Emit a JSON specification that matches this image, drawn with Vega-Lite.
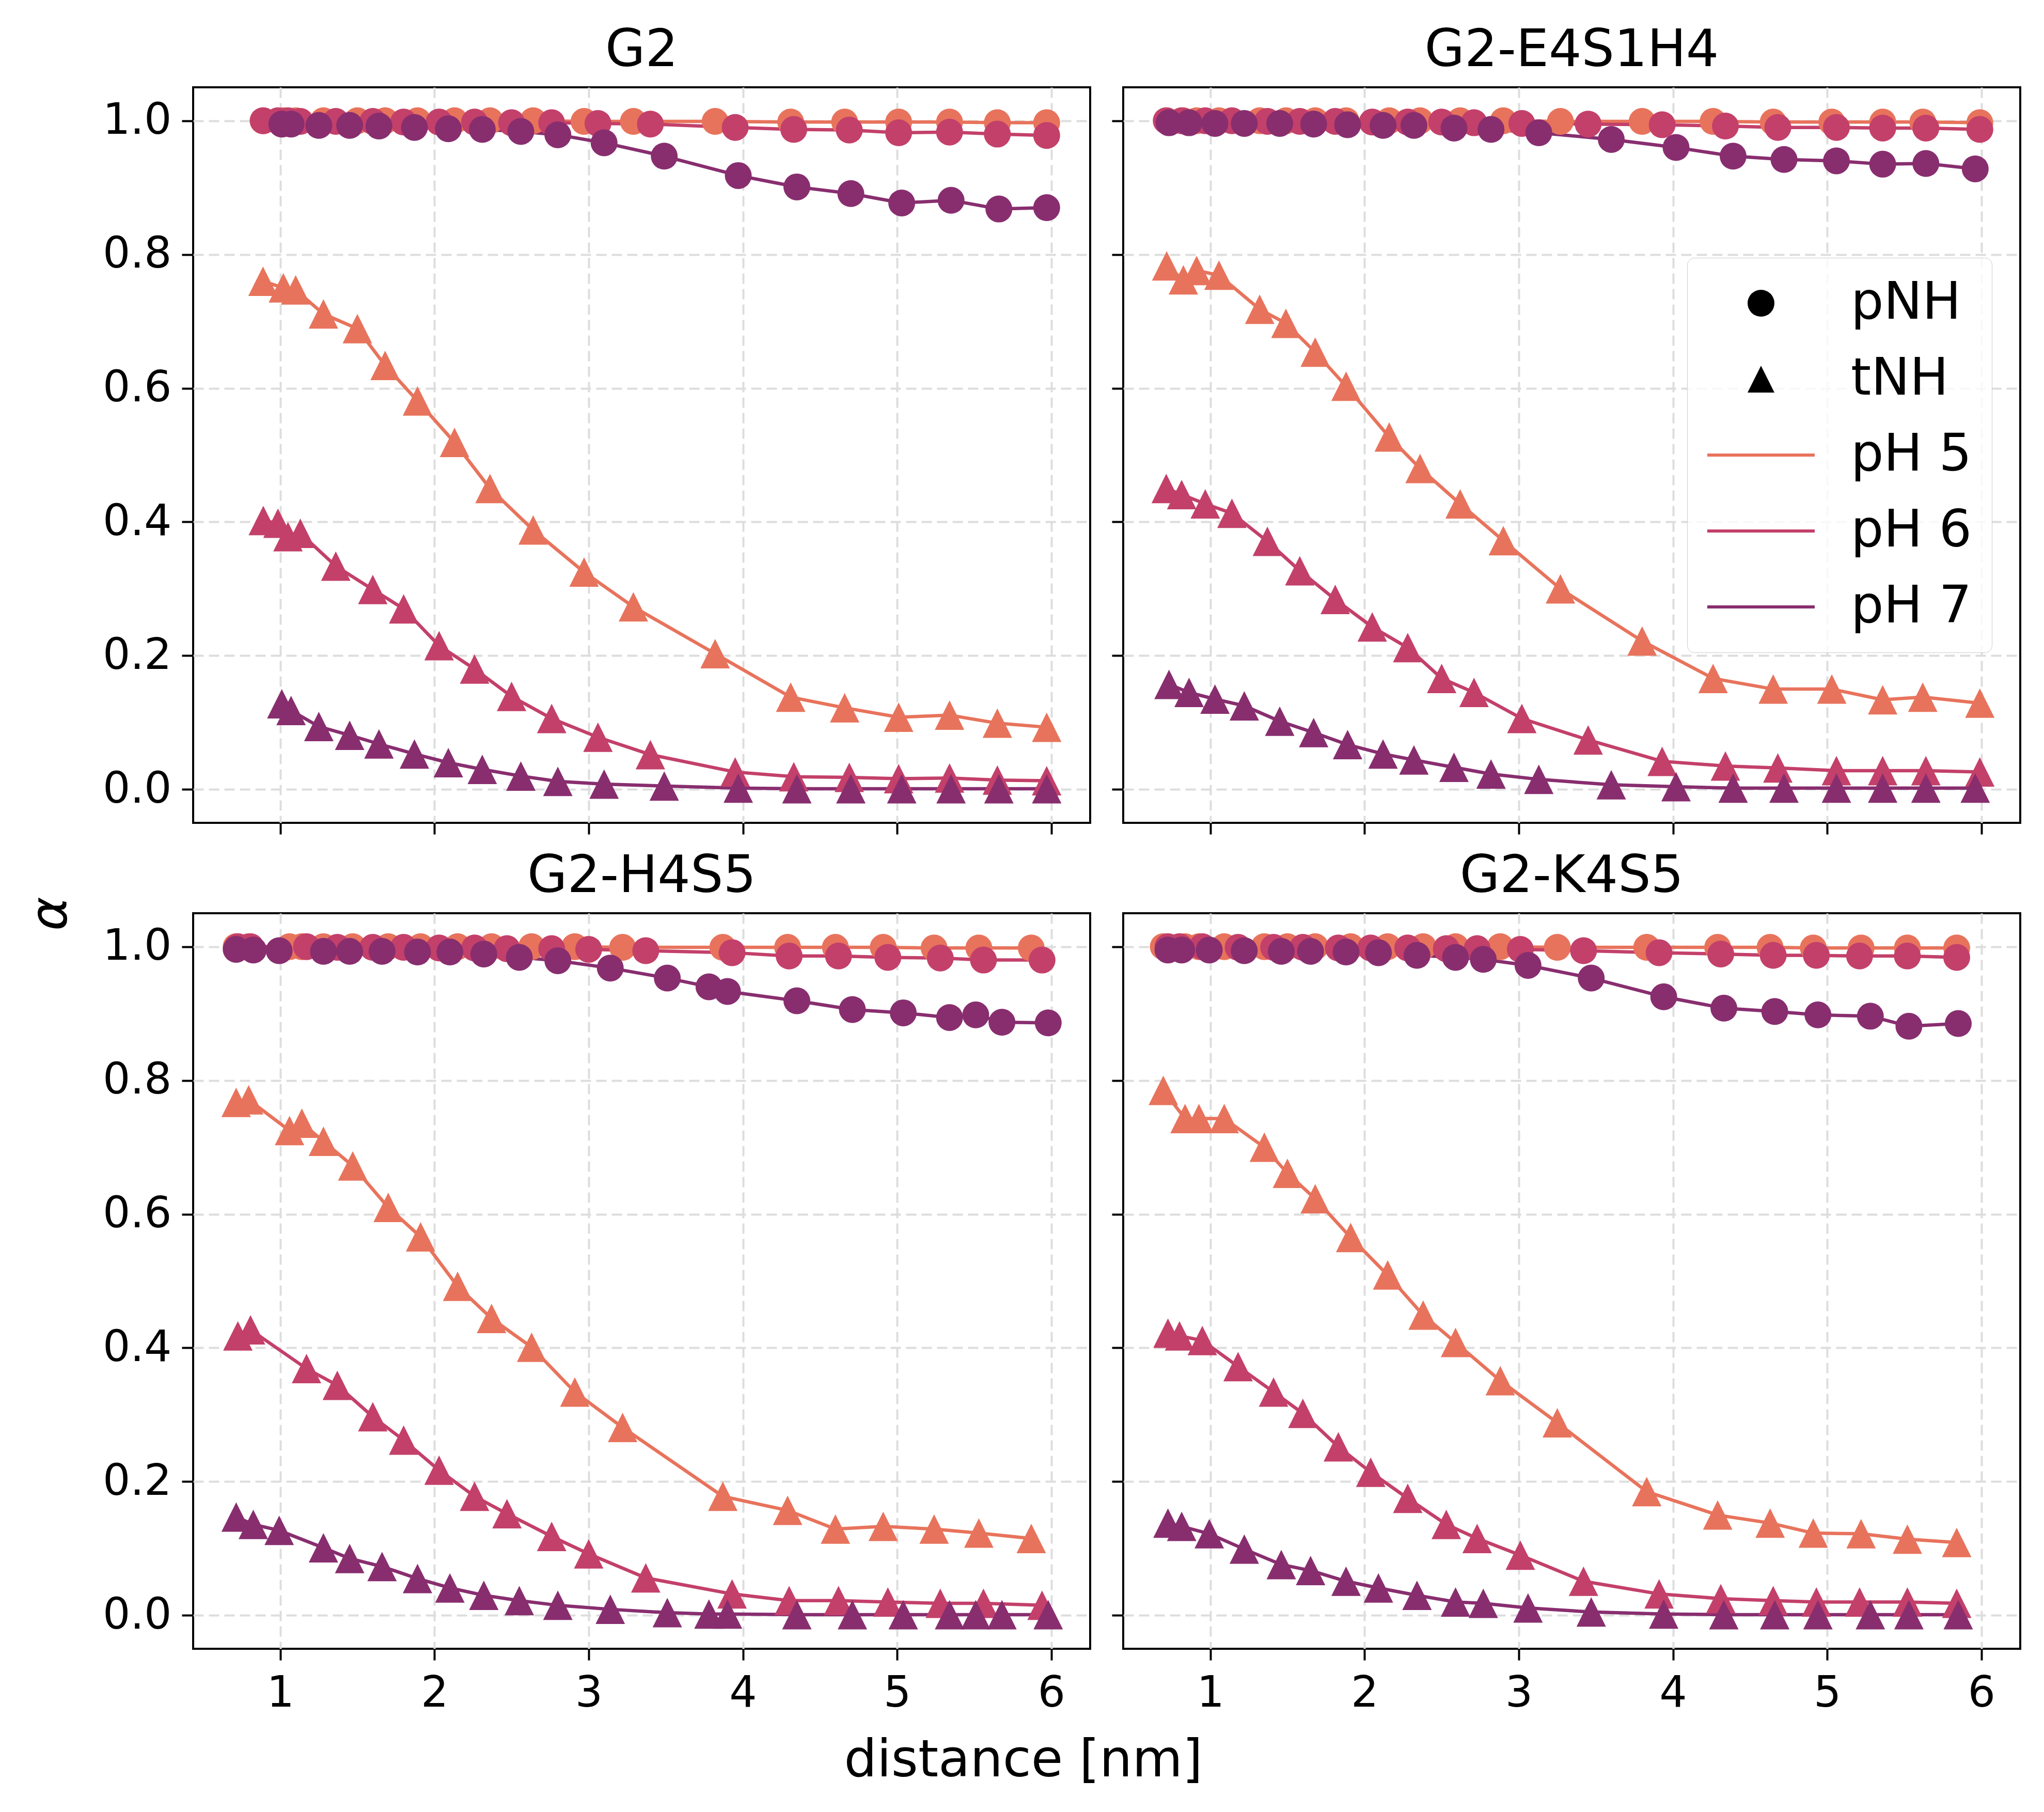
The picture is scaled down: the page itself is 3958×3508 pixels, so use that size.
{
"$schema": "https://vega.github.io/schema/vega-lite/v6.json",
"background": "white",
"padding": {"left": 49, "top": 46, "right": 40, "bottom": 40},
"data": {"values": [
{"p":"G2","h":"pH 5","t":"pNH","x":0.888,"y":1},{"p":"G2","h":"pH 5","t":"pNH","x":1.02,"y":1},{"p":"G2","h":"pH 5","t":"pNH","x":1.10,"y":1},{"p":"G2","h":"pH 5","t":"pNH","x":1.28,"y":1},{"p":"G2","h":"pH 5","t":"pNH","x":1.50,"y":1},{"p":"G2","h":"pH 5","t":"pNH","x":1.68,"y":1},{"p":"G2","h":"pH 5","t":"pNH","x":1.89,"y":1},{"p":"G2","h":"pH 5","t":"pNH","x":2.13,"y":1},{"p":"G2","h":"pH 5","t":"pNH","x":2.36,"y":1},{"p":"G2","h":"pH 5","t":"pNH","x":2.64,"y":1},{"p":"G2","h":"pH 5","t":"pNH","x":2.97,"y":0.999},{"p":"G2","h":"pH 5","t":"pNH","x":3.29,"y":0.999},{"p":"G2","h":"pH 5","t":"pNH","x":3.82,"y":0.999},{"p":"G2","h":"pH 5","t":"pNH","x":4.31,"y":0.998},{"p":"G2","h":"pH 5","t":"pNH","x":4.66,"y":0.998},{"p":"G2","h":"pH 5","t":"pNH","x":5.01,"y":0.998},{"p":"G2","h":"pH 5","t":"pNH","x":5.34,"y":0.998},{"p":"G2","h":"pH 5","t":"pNH","x":5.65,"y":0.997},{"p":"G2","h":"pH 5","t":"pNH","x":5.97,"y":0.997},
{"p":"G2","h":"pH 5","t":"tNH","x":0.888,"y":0.760},{"p":"G2","h":"pH 5","t":"tNH","x":1.02,"y":0.750},{"p":"G2","h":"pH 5","t":"tNH","x":1.10,"y":0.747},{"p":"G2","h":"pH 5","t":"tNH","x":1.28,"y":0.711},{"p":"G2","h":"pH 5","t":"tNH","x":1.50,"y":0.689},{"p":"G2","h":"pH 5","t":"tNH","x":1.68,"y":0.634},{"p":"G2","h":"pH 5","t":"tNH","x":1.89,"y":0.581},{"p":"G2","h":"pH 5","t":"tNH","x":2.13,"y":0.519},{"p":"G2","h":"pH 5","t":"tNH","x":2.36,"y":0.450},{"p":"G2","h":"pH 5","t":"tNH","x":2.64,"y":0.388},{"p":"G2","h":"pH 5","t":"tNH","x":2.97,"y":0.325},{"p":"G2","h":"pH 5","t":"tNH","x":3.29,"y":0.273},{"p":"G2","h":"pH 5","t":"tNH","x":3.82,"y":0.203},{"p":"G2","h":"pH 5","t":"tNH","x":4.31,"y":0.138},{"p":"G2","h":"pH 5","t":"tNH","x":4.66,"y":0.122},{"p":"G2","h":"pH 5","t":"tNH","x":5.01,"y":0.108},{"p":"G2","h":"pH 5","t":"tNH","x":5.34,"y":0.111},{"p":"G2","h":"pH 5","t":"tNH","x":5.65,"y":0.099},{"p":"G2","h":"pH 5","t":"tNH","x":5.97,"y":0.093},
{"p":"G2","h":"pH 6","t":"pNH","x":0.89,"y":1},{"p":"G2","h":"pH 6","t":"pNH","x":0.985,"y":1},{"p":"G2","h":"pH 6","t":"pNH","x":1.05,"y":1},{"p":"G2","h":"pH 6","t":"pNH","x":1.13,"y":0.999},{"p":"G2","h":"pH 6","t":"pNH","x":1.36,"y":0.999},{"p":"G2","h":"pH 6","t":"pNH","x":1.60,"y":0.999},{"p":"G2","h":"pH 6","t":"pNH","x":1.80,"y":0.998},{"p":"G2","h":"pH 6","t":"pNH","x":2.03,"y":0.998},{"p":"G2","h":"pH 6","t":"pNH","x":2.26,"y":0.998},{"p":"G2","h":"pH 6","t":"pNH","x":2.50,"y":0.997},{"p":"G2","h":"pH 6","t":"pNH","x":2.76,"y":0.997},{"p":"G2","h":"pH 6","t":"pNH","x":3.06,"y":0.996},{"p":"G2","h":"pH 6","t":"pNH","x":3.40,"y":0.995},{"p":"G2","h":"pH 6","t":"pNH","x":3.95,"y":0.990},{"p":"G2","h":"pH 6","t":"pNH","x":4.33,"y":0.987},{"p":"G2","h":"pH 6","t":"pNH","x":4.69,"y":0.986},{"p":"G2","h":"pH 6","t":"pNH","x":5.01,"y":0.982},{"p":"G2","h":"pH 6","t":"pNH","x":5.34,"y":0.983},{"p":"G2","h":"pH 6","t":"pNH","x":5.65,"y":0.980},{"p":"G2","h":"pH 6","t":"pNH","x":5.97,"y":0.978},
{"p":"G2","h":"pH 6","t":"tNH","x":0.89,"y":0.402},{"p":"G2","h":"pH 6","t":"tNH","x":0.985,"y":0.398},{"p":"G2","h":"pH 6","t":"tNH","x":1.05,"y":0.378},{"p":"G2","h":"pH 6","t":"tNH","x":1.13,"y":0.383},{"p":"G2","h":"pH 6","t":"tNH","x":1.36,"y":0.334},{"p":"G2","h":"pH 6","t":"tNH","x":1.60,"y":0.299},{"p":"G2","h":"pH 6","t":"tNH","x":1.80,"y":0.270},{"p":"G2","h":"pH 6","t":"tNH","x":2.03,"y":0.215},{"p":"G2","h":"pH 6","t":"tNH","x":2.26,"y":0.180},{"p":"G2","h":"pH 6","t":"tNH","x":2.50,"y":0.139},{"p":"G2","h":"pH 6","t":"tNH","x":2.76,"y":0.106},{"p":"G2","h":"pH 6","t":"tNH","x":3.06,"y":0.078},{"p":"G2","h":"pH 6","t":"tNH","x":3.40,"y":0.052},{"p":"G2","h":"pH 6","t":"tNH","x":3.95,"y":0.026},{"p":"G2","h":"pH 6","t":"tNH","x":4.33,"y":0.019},{"p":"G2","h":"pH 6","t":"tNH","x":4.69,"y":0.018},{"p":"G2","h":"pH 6","t":"tNH","x":5.01,"y":0.016},{"p":"G2","h":"pH 6","t":"tNH","x":5.34,"y":0.017},{"p":"G2","h":"pH 6","t":"tNH","x":5.65,"y":0.014},{"p":"G2","h":"pH 6","t":"tNH","x":5.97,"y":0.013},
{"p":"G2","h":"pH 7","t":"pNH","x":1.01,"y":0.995},{"p":"G2","h":"pH 7","t":"pNH","x":1.07,"y":0.995},{"p":"G2","h":"pH 7","t":"pNH","x":1.25,"y":0.993},{"p":"G2","h":"pH 7","t":"pNH","x":1.45,"y":0.993},{"p":"G2","h":"pH 7","t":"pNH","x":1.64,"y":0.992},{"p":"G2","h":"pH 7","t":"pNH","x":1.87,"y":0.990},{"p":"G2","h":"pH 7","t":"pNH","x":2.09,"y":0.988},{"p":"G2","h":"pH 7","t":"pNH","x":2.31,"y":0.987},{"p":"G2","h":"pH 7","t":"pNH","x":2.56,"y":0.984},{"p":"G2","h":"pH 7","t":"pNH","x":2.80,"y":0.979},{"p":"G2","h":"pH 7","t":"pNH","x":3.10,"y":0.967},{"p":"G2","h":"pH 7","t":"pNH","x":3.49,"y":0.947},{"p":"G2","h":"pH 7","t":"pNH","x":3.97,"y":0.918},{"p":"G2","h":"pH 7","t":"pNH","x":4.35,"y":0.901},{"p":"G2","h":"pH 7","t":"pNH","x":4.70,"y":0.891},{"p":"G2","h":"pH 7","t":"pNH","x":5.03,"y":0.877},{"p":"G2","h":"pH 7","t":"pNH","x":5.35,"y":0.881},{"p":"G2","h":"pH 7","t":"pNH","x":5.66,"y":0.868},{"p":"G2","h":"pH 7","t":"pNH","x":5.97,"y":0.870},
{"p":"G2","h":"pH 7","t":"tNH","x":1.01,"y":0.128},{"p":"G2","h":"pH 7","t":"tNH","x":1.07,"y":0.118},{"p":"G2","h":"pH 7","t":"tNH","x":1.25,"y":0.094},{"p":"G2","h":"pH 7","t":"tNH","x":1.45,"y":0.081},{"p":"G2","h":"pH 7","t":"tNH","x":1.64,"y":0.068},{"p":"G2","h":"pH 7","t":"tNH","x":1.87,"y":0.053},{"p":"G2","h":"pH 7","t":"tNH","x":2.09,"y":0.040},{"p":"G2","h":"pH 7","t":"tNH","x":2.31,"y":0.030},{"p":"G2","h":"pH 7","t":"tNH","x":2.56,"y":0.020},{"p":"G2","h":"pH 7","t":"tNH","x":2.80,"y":0.012},{"p":"G2","h":"pH 7","t":"tNH","x":3.10,"y":0.008},{"p":"G2","h":"pH 7","t":"tNH","x":3.49,"y":0.005},{"p":"G2","h":"pH 7","t":"tNH","x":3.97,"y":0.002},{"p":"G2","h":"pH 7","t":"tNH","x":4.35,"y":0.001},{"p":"G2","h":"pH 7","t":"tNH","x":4.70,"y":0.001},{"p":"G2","h":"pH 7","t":"tNH","x":5.03,"y":0.001},{"p":"G2","h":"pH 7","t":"tNH","x":5.35,"y":0.001},{"p":"G2","h":"pH 7","t":"tNH","x":5.66,"y":0.001},{"p":"G2","h":"pH 7","t":"tNH","x":5.97,"y":0.001},

{"p":"G2-E4S1H4","h":"pH 5","t":"pNH","x":0.717,"y":1},{"p":"G2-E4S1H4","h":"pH 5","t":"pNH","x":0.825,"y":1},{"p":"G2-E4S1H4","h":"pH 5","t":"pNH","x":0.911,"y":1},{"p":"G2-E4S1H4","h":"pH 5","t":"pNH","x":1.056,"y":1},{"p":"G2-E4S1H4","h":"pH 5","t":"pNH","x":1.32,"y":1},{"p":"G2-E4S1H4","h":"pH 5","t":"pNH","x":1.49,"y":1},{"p":"G2-E4S1H4","h":"pH 5","t":"pNH","x":1.68,"y":1},{"p":"G2-E4S1H4","h":"pH 5","t":"pNH","x":1.88,"y":1},{"p":"G2-E4S1H4","h":"pH 5","t":"pNH","x":2.16,"y":1},{"p":"G2-E4S1H4","h":"pH 5","t":"pNH","x":2.36,"y":1},{"p":"G2-E4S1H4","h":"pH 5","t":"pNH","x":2.62,"y":1},{"p":"G2-E4S1H4","h":"pH 5","t":"pNH","x":2.90,"y":1},{"p":"G2-E4S1H4","h":"pH 5","t":"pNH","x":3.27,"y":0.999},{"p":"G2-E4S1H4","h":"pH 5","t":"pNH","x":3.80,"y":0.999},{"p":"G2-E4S1H4","h":"pH 5","t":"pNH","x":4.26,"y":0.999},{"p":"G2-E4S1H4","h":"pH 5","t":"pNH","x":4.65,"y":0.998},{"p":"G2-E4S1H4","h":"pH 5","t":"pNH","x":5.03,"y":0.998},{"p":"G2-E4S1H4","h":"pH 5","t":"pNH","x":5.36,"y":0.998},{"p":"G2-E4S1H4","h":"pH 5","t":"pNH","x":5.62,"y":0.998},{"p":"G2-E4S1H4","h":"pH 5","t":"pNH","x":5.99,"y":0.997},
{"p":"G2-E4S1H4","h":"pH 5","t":"tNH","x":0.717,"y":0.783},{"p":"G2-E4S1H4","h":"pH 5","t":"tNH","x":0.825,"y":0.762},{"p":"G2-E4S1H4","h":"pH 5","t":"tNH","x":0.911,"y":0.776},{"p":"G2-E4S1H4","h":"pH 5","t":"tNH","x":1.056,"y":0.769},{"p":"G2-E4S1H4","h":"pH 5","t":"tNH","x":1.32,"y":0.718},{"p":"G2-E4S1H4","h":"pH 5","t":"tNH","x":1.49,"y":0.697},{"p":"G2-E4S1H4","h":"pH 5","t":"tNH","x":1.68,"y":0.654},{"p":"G2-E4S1H4","h":"pH 5","t":"tNH","x":1.88,"y":0.603},{"p":"G2-E4S1H4","h":"pH 5","t":"tNH","x":2.16,"y":0.527},{"p":"G2-E4S1H4","h":"pH 5","t":"tNH","x":2.36,"y":0.480},{"p":"G2-E4S1H4","h":"pH 5","t":"tNH","x":2.62,"y":0.427},{"p":"G2-E4S1H4","h":"pH 5","t":"tNH","x":2.90,"y":0.372},{"p":"G2-E4S1H4","h":"pH 5","t":"tNH","x":3.27,"y":0.300},{"p":"G2-E4S1H4","h":"pH 5","t":"tNH","x":3.80,"y":0.222},{"p":"G2-E4S1H4","h":"pH 5","t":"tNH","x":4.26,"y":0.166},{"p":"G2-E4S1H4","h":"pH 5","t":"tNH","x":4.65,"y":0.150},{"p":"G2-E4S1H4","h":"pH 5","t":"tNH","x":5.03,"y":0.150},{"p":"G2-E4S1H4","h":"pH 5","t":"tNH","x":5.36,"y":0.134},{"p":"G2-E4S1H4","h":"pH 5","t":"tNH","x":5.62,"y":0.138},{"p":"G2-E4S1H4","h":"pH 5","t":"tNH","x":5.99,"y":0.129},
{"p":"G2-E4S1H4","h":"pH 6","t":"pNH","x":0.714,"y":1},{"p":"G2-E4S1H4","h":"pH 6","t":"pNH","x":0.814,"y":1},{"p":"G2-E4S1H4","h":"pH 6","t":"pNH","x":0.967,"y":1},{"p":"G2-E4S1H4","h":"pH 6","t":"pNH","x":1.14,"y":1},{"p":"G2-E4S1H4","h":"pH 6","t":"pNH","x":1.37,"y":0.999},{"p":"G2-E4S1H4","h":"pH 6","t":"pNH","x":1.58,"y":0.999},{"p":"G2-E4S1H4","h":"pH 6","t":"pNH","x":1.81,"y":0.999},{"p":"G2-E4S1H4","h":"pH 6","t":"pNH","x":2.05,"y":0.998},{"p":"G2-E4S1H4","h":"pH 6","t":"pNH","x":2.28,"y":0.998},{"p":"G2-E4S1H4","h":"pH 6","t":"pNH","x":2.50,"y":0.998},{"p":"G2-E4S1H4","h":"pH 6","t":"pNH","x":2.71,"y":0.997},{"p":"G2-E4S1H4","h":"pH 6","t":"pNH","x":3.02,"y":0.996},{"p":"G2-E4S1H4","h":"pH 6","t":"pNH","x":3.45,"y":0.995},{"p":"G2-E4S1H4","h":"pH 6","t":"pNH","x":3.93,"y":0.994},{"p":"G2-E4S1H4","h":"pH 6","t":"pNH","x":4.34,"y":0.992},{"p":"G2-E4S1H4","h":"pH 6","t":"pNH","x":4.68,"y":0.990},{"p":"G2-E4S1H4","h":"pH 6","t":"pNH","x":5.06,"y":0.990},{"p":"G2-E4S1H4","h":"pH 6","t":"pNH","x":5.36,"y":0.989},{"p":"G2-E4S1H4","h":"pH 6","t":"pNH","x":5.64,"y":0.989},{"p":"G2-E4S1H4","h":"pH 6","t":"pNH","x":5.99,"y":0.987},
{"p":"G2-E4S1H4","h":"pH 6","t":"tNH","x":0.714,"y":0.450},{"p":"G2-E4S1H4","h":"pH 6","t":"tNH","x":0.814,"y":0.441},{"p":"G2-E4S1H4","h":"pH 6","t":"tNH","x":0.967,"y":0.427},{"p":"G2-E4S1H4","h":"pH 6","t":"tNH","x":1.14,"y":0.413},{"p":"G2-E4S1H4","h":"pH 6","t":"tNH","x":1.37,"y":0.371},{"p":"G2-E4S1H4","h":"pH 6","t":"tNH","x":1.58,"y":0.327},{"p":"G2-E4S1H4","h":"pH 6","t":"tNH","x":1.81,"y":0.284},{"p":"G2-E4S1H4","h":"pH 6","t":"tNH","x":2.05,"y":0.243},{"p":"G2-E4S1H4","h":"pH 6","t":"tNH","x":2.28,"y":0.212},{"p":"G2-E4S1H4","h":"pH 6","t":"tNH","x":2.50,"y":0.166},{"p":"G2-E4S1H4","h":"pH 6","t":"tNH","x":2.71,"y":0.145},{"p":"G2-E4S1H4","h":"pH 6","t":"tNH","x":3.02,"y":0.106},{"p":"G2-E4S1H4","h":"pH 6","t":"tNH","x":3.45,"y":0.074},{"p":"G2-E4S1H4","h":"pH 6","t":"tNH","x":3.93,"y":0.042},{"p":"G2-E4S1H4","h":"pH 6","t":"tNH","x":4.34,"y":0.035},{"p":"G2-E4S1H4","h":"pH 6","t":"tNH","x":4.68,"y":0.032},{"p":"G2-E4S1H4","h":"pH 6","t":"tNH","x":5.06,"y":0.028},{"p":"G2-E4S1H4","h":"pH 6","t":"tNH","x":5.36,"y":0.028},{"p":"G2-E4S1H4","h":"pH 6","t":"tNH","x":5.64,"y":0.028},{"p":"G2-E4S1H4","h":"pH 6","t":"tNH","x":5.99,"y":0.026},
{"p":"G2-E4S1H4","h":"pH 7","t":"pNH","x":0.732,"y":0.997},{"p":"G2-E4S1H4","h":"pH 7","t":"pNH","x":0.862,"y":0.997},{"p":"G2-E4S1H4","h":"pH 7","t":"pNH","x":1.03,"y":0.996},{"p":"G2-E4S1H4","h":"pH 7","t":"pNH","x":1.22,"y":0.996},{"p":"G2-E4S1H4","h":"pH 7","t":"pNH","x":1.45,"y":0.996},{"p":"G2-E4S1H4","h":"pH 7","t":"pNH","x":1.67,"y":0.995},{"p":"G2-E4S1H4","h":"pH 7","t":"pNH","x":1.89,"y":0.994},{"p":"G2-E4S1H4","h":"pH 7","t":"pNH","x":2.12,"y":0.993},{"p":"G2-E4S1H4","h":"pH 7","t":"pNH","x":2.32,"y":0.993},{"p":"G2-E4S1H4","h":"pH 7","t":"pNH","x":2.58,"y":0.989},{"p":"G2-E4S1H4","h":"pH 7","t":"pNH","x":2.82,"y":0.987},{"p":"G2-E4S1H4","h":"pH 7","t":"pNH","x":3.13,"y":0.982},{"p":"G2-E4S1H4","h":"pH 7","t":"pNH","x":3.60,"y":0.972},{"p":"G2-E4S1H4","h":"pH 7","t":"pNH","x":4.02,"y":0.960},{"p":"G2-E4S1H4","h":"pH 7","t":"pNH","x":4.39,"y":0.947},{"p":"G2-E4S1H4","h":"pH 7","t":"pNH","x":4.72,"y":0.942},{"p":"G2-E4S1H4","h":"pH 7","t":"pNH","x":5.06,"y":0.940},{"p":"G2-E4S1H4","h":"pH 7","t":"pNH","x":5.36,"y":0.935},{"p":"G2-E4S1H4","h":"pH 7","t":"pNH","x":5.64,"y":0.936},{"p":"G2-E4S1H4","h":"pH 7","t":"pNH","x":5.96,"y":0.928},
{"p":"G2-E4S1H4","h":"pH 7","t":"tNH","x":0.732,"y":0.157},{"p":"G2-E4S1H4","h":"pH 7","t":"tNH","x":0.862,"y":0.145},{"p":"G2-E4S1H4","h":"pH 7","t":"tNH","x":1.03,"y":0.135},{"p":"G2-E4S1H4","h":"pH 7","t":"tNH","x":1.22,"y":0.125},{"p":"G2-E4S1H4","h":"pH 7","t":"tNH","x":1.45,"y":0.102},{"p":"G2-E4S1H4","h":"pH 7","t":"tNH","x":1.67,"y":0.085},{"p":"G2-E4S1H4","h":"pH 7","t":"tNH","x":1.89,"y":0.067},{"p":"G2-E4S1H4","h":"pH 7","t":"tNH","x":2.12,"y":0.053},{"p":"G2-E4S1H4","h":"pH 7","t":"tNH","x":2.32,"y":0.044},{"p":"G2-E4S1H4","h":"pH 7","t":"tNH","x":2.58,"y":0.033},{"p":"G2-E4S1H4","h":"pH 7","t":"tNH","x":2.82,"y":0.023},{"p":"G2-E4S1H4","h":"pH 7","t":"tNH","x":3.13,"y":0.015},{"p":"G2-E4S1H4","h":"pH 7","t":"tNH","x":3.60,"y":0.007},{"p":"G2-E4S1H4","h":"pH 7","t":"tNH","x":4.02,"y":0.004},{"p":"G2-E4S1H4","h":"pH 7","t":"tNH","x":4.39,"y":0.002},{"p":"G2-E4S1H4","h":"pH 7","t":"tNH","x":4.72,"y":0.002},{"p":"G2-E4S1H4","h":"pH 7","t":"tNH","x":5.06,"y":0.002},{"p":"G2-E4S1H4","h":"pH 7","t":"tNH","x":5.36,"y":0.002},{"p":"G2-E4S1H4","h":"pH 7","t":"tNH","x":5.64,"y":0.002},{"p":"G2-E4S1H4","h":"pH 7","t":"tNH","x":5.96,"y":0.002},

{"p":"G2-H4S5","h":"pH 5","t":"pNH","x":0.714,"y":1},{"p":"G2-H4S5","h":"pH 5","t":"pNH","x":0.795,"y":1},{"p":"G2-H4S5","h":"pH 5","t":"pNH","x":1.06,"y":1},{"p":"G2-H4S5","h":"pH 5","t":"pNH","x":1.14,"y":1},{"p":"G2-H4S5","h":"pH 5","t":"pNH","x":1.28,"y":1},{"p":"G2-H4S5","h":"pH 5","t":"pNH","x":1.47,"y":1},{"p":"G2-H4S5","h":"pH 5","t":"pNH","x":1.70,"y":1},{"p":"G2-H4S5","h":"pH 5","t":"pNH","x":1.91,"y":1},{"p":"G2-H4S5","h":"pH 5","t":"pNH","x":2.15,"y":1},{"p":"G2-H4S5","h":"pH 5","t":"pNH","x":2.37,"y":1},{"p":"G2-H4S5","h":"pH 5","t":"pNH","x":2.63,"y":1},{"p":"G2-H4S5","h":"pH 5","t":"pNH","x":2.91,"y":1},{"p":"G2-H4S5","h":"pH 5","t":"pNH","x":3.22,"y":0.999},{"p":"G2-H4S5","h":"pH 5","t":"pNH","x":3.87,"y":0.999},{"p":"G2-H4S5","h":"pH 5","t":"pNH","x":4.29,"y":0.999},{"p":"G2-H4S5","h":"pH 5","t":"pNH","x":4.60,"y":0.999},{"p":"G2-H4S5","h":"pH 5","t":"pNH","x":4.91,"y":0.999},{"p":"G2-H4S5","h":"pH 5","t":"pNH","x":5.24,"y":0.998},{"p":"G2-H4S5","h":"pH 5","t":"pNH","x":5.53,"y":0.998},{"p":"G2-H4S5","h":"pH 5","t":"pNH","x":5.87,"y":0.998},
{"p":"G2-H4S5","h":"pH 5","t":"tNH","x":0.714,"y":0.767},{"p":"G2-H4S5","h":"pH 5","t":"tNH","x":0.795,"y":0.771},{"p":"G2-H4S5","h":"pH 5","t":"tNH","x":1.06,"y":0.725},{"p":"G2-H4S5","h":"pH 5","t":"tNH","x":1.14,"y":0.736},{"p":"G2-H4S5","h":"pH 5","t":"tNH","x":1.28,"y":0.709},{"p":"G2-H4S5","h":"pH 5","t":"tNH","x":1.47,"y":0.672},{"p":"G2-H4S5","h":"pH 5","t":"tNH","x":1.70,"y":0.610},{"p":"G2-H4S5","h":"pH 5","t":"tNH","x":1.91,"y":0.566},{"p":"G2-H4S5","h":"pH 5","t":"tNH","x":2.15,"y":0.492},{"p":"G2-H4S5","h":"pH 5","t":"tNH","x":2.37,"y":0.444},{"p":"G2-H4S5","h":"pH 5","t":"tNH","x":2.63,"y":0.401},{"p":"G2-H4S5","h":"pH 5","t":"tNH","x":2.91,"y":0.334},{"p":"G2-H4S5","h":"pH 5","t":"tNH","x":3.22,"y":0.281},{"p":"G2-H4S5","h":"pH 5","t":"tNH","x":3.87,"y":0.178},{"p":"G2-H4S5","h":"pH 5","t":"tNH","x":4.29,"y":0.157},{"p":"G2-H4S5","h":"pH 5","t":"tNH","x":4.60,"y":0.129},{"p":"G2-H4S5","h":"pH 5","t":"tNH","x":4.91,"y":0.133},{"p":"G2-H4S5","h":"pH 5","t":"tNH","x":5.24,"y":0.129},{"p":"G2-H4S5","h":"pH 5","t":"tNH","x":5.53,"y":0.123},{"p":"G2-H4S5","h":"pH 5","t":"tNH","x":5.87,"y":0.115},
{"p":"G2-H4S5","h":"pH 6","t":"pNH","x":0.725,"y":1},{"p":"G2-H4S5","h":"pH 6","t":"pNH","x":0.807,"y":1},{"p":"G2-H4S5","h":"pH 6","t":"pNH","x":1.17,"y":1},{"p":"G2-H4S5","h":"pH 6","t":"pNH","x":1.37,"y":0.999},{"p":"G2-H4S5","h":"pH 6","t":"pNH","x":1.60,"y":0.999},{"p":"G2-H4S5","h":"pH 6","t":"pNH","x":1.80,"y":0.999},{"p":"G2-H4S5","h":"pH 6","t":"pNH","x":2.03,"y":0.998},{"p":"G2-H4S5","h":"pH 6","t":"pNH","x":2.26,"y":0.998},{"p":"G2-H4S5","h":"pH 6","t":"pNH","x":2.47,"y":0.997},{"p":"G2-H4S5","h":"pH 6","t":"pNH","x":2.76,"y":0.997},{"p":"G2-H4S5","h":"pH 6","t":"pNH","x":3.00,"y":0.996},{"p":"G2-H4S5","h":"pH 6","t":"pNH","x":3.37,"y":0.994},{"p":"G2-H4S5","h":"pH 6","t":"pNH","x":3.93,"y":0.991},{"p":"G2-H4S5","h":"pH 6","t":"pNH","x":4.30,"y":0.986},{"p":"G2-H4S5","h":"pH 6","t":"pNH","x":4.62,"y":0.986},{"p":"G2-H4S5","h":"pH 6","t":"pNH","x":4.94,"y":0.984},{"p":"G2-H4S5","h":"pH 6","t":"pNH","x":5.28,"y":0.983},{"p":"G2-H4S5","h":"pH 6","t":"pNH","x":5.56,"y":0.980},{"p":"G2-H4S5","h":"pH 6","t":"pNH","x":5.94,"y":0.980},
{"p":"G2-H4S5","h":"pH 6","t":"tNH","x":0.725,"y":0.418},{"p":"G2-H4S5","h":"pH 6","t":"tNH","x":0.807,"y":0.427},{"p":"G2-H4S5","h":"pH 6","t":"tNH","x":1.17,"y":0.369},{"p":"G2-H4S5","h":"pH 6","t":"tNH","x":1.37,"y":0.344},{"p":"G2-H4S5","h":"pH 6","t":"tNH","x":1.60,"y":0.297},{"p":"G2-H4S5","h":"pH 6","t":"tNH","x":1.80,"y":0.262},{"p":"G2-H4S5","h":"pH 6","t":"tNH","x":2.03,"y":0.217},{"p":"G2-H4S5","h":"pH 6","t":"tNH","x":2.26,"y":0.178},{"p":"G2-H4S5","h":"pH 6","t":"tNH","x":2.47,"y":0.152},{"p":"G2-H4S5","h":"pH 6","t":"tNH","x":2.76,"y":0.118},{"p":"G2-H4S5","h":"pH 6","t":"tNH","x":3.00,"y":0.092},{"p":"G2-H4S5","h":"pH 6","t":"tNH","x":3.37,"y":0.056},{"p":"G2-H4S5","h":"pH 6","t":"tNH","x":3.93,"y":0.032},{"p":"G2-H4S5","h":"pH 6","t":"tNH","x":4.30,"y":0.022},{"p":"G2-H4S5","h":"pH 6","t":"tNH","x":4.62,"y":0.022},{"p":"G2-H4S5","h":"pH 6","t":"tNH","x":4.94,"y":0.020},{"p":"G2-H4S5","h":"pH 6","t":"tNH","x":5.28,"y":0.018},{"p":"G2-H4S5","h":"pH 6","t":"tNH","x":5.56,"y":0.018},{"p":"G2-H4S5","h":"pH 6","t":"tNH","x":5.94,"y":0.015},
{"p":"G2-H4S5","h":"pH 7","t":"pNH","x":0.714,"y":0.996},{"p":"G2-H4S5","h":"pH 7","t":"pNH","x":0.825,"y":0.995},{"p":"G2-H4S5","h":"pH 7","t":"pNH","x":0.993,"y":0.994},{"p":"G2-H4S5","h":"pH 7","t":"pNH","x":1.28,"y":0.993},{"p":"G2-H4S5","h":"pH 7","t":"pNH","x":1.45,"y":0.993},{"p":"G2-H4S5","h":"pH 7","t":"pNH","x":1.66,"y":0.993},{"p":"G2-H4S5","h":"pH 7","t":"pNH","x":1.89,"y":0.992},{"p":"G2-H4S5","h":"pH 7","t":"pNH","x":2.10,"y":0.992},{"p":"G2-H4S5","h":"pH 7","t":"pNH","x":2.32,"y":0.989},{"p":"G2-H4S5","h":"pH 7","t":"pNH","x":2.55,"y":0.984},{"p":"G2-H4S5","h":"pH 7","t":"pNH","x":2.80,"y":0.979},{"p":"G2-H4S5","h":"pH 7","t":"pNH","x":3.14,"y":0.968},{"p":"G2-H4S5","h":"pH 7","t":"pNH","x":3.51,"y":0.953},{"p":"G2-H4S5","h":"pH 7","t":"pNH","x":3.78,"y":0.940},{"p":"G2-H4S5","h":"pH 7","t":"pNH","x":3.90,"y":0.933},{"p":"G2-H4S5","h":"pH 7","t":"pNH","x":4.35,"y":0.919},{"p":"G2-H4S5","h":"pH 7","t":"pNH","x":4.71,"y":0.906},{"p":"G2-H4S5","h":"pH 7","t":"pNH","x":5.04,"y":0.901},{"p":"G2-H4S5","h":"pH 7","t":"pNH","x":5.34,"y":0.894},{"p":"G2-H4S5","h":"pH 7","t":"pNH","x":5.51,"y":0.898},{"p":"G2-H4S5","h":"pH 7","t":"pNH","x":5.68,"y":0.887},{"p":"G2-H4S5","h":"pH 7","t":"pNH","x":5.98,"y":0.886},
{"p":"G2-H4S5","h":"pH 7","t":"tNH","x":0.714,"y":0.147},{"p":"G2-H4S5","h":"pH 7","t":"tNH","x":0.825,"y":0.136},{"p":"G2-H4S5","h":"pH 7","t":"tNH","x":0.993,"y":0.127},{"p":"G2-H4S5","h":"pH 7","t":"tNH","x":1.28,"y":0.101},{"p":"G2-H4S5","h":"pH 7","t":"tNH","x":1.45,"y":0.085},{"p":"G2-H4S5","h":"pH 7","t":"tNH","x":1.66,"y":0.073},{"p":"G2-H4S5","h":"pH 7","t":"tNH","x":1.89,"y":0.055},{"p":"G2-H4S5","h":"pH 7","t":"tNH","x":2.10,"y":0.041},{"p":"G2-H4S5","h":"pH 7","t":"tNH","x":2.32,"y":0.030},{"p":"G2-H4S5","h":"pH 7","t":"tNH","x":2.55,"y":0.022},{"p":"G2-H4S5","h":"pH 7","t":"tNH","x":2.80,"y":0.015},{"p":"G2-H4S5","h":"pH 7","t":"tNH","x":3.14,"y":0.009},{"p":"G2-H4S5","h":"pH 7","t":"tNH","x":3.51,"y":0.004},{"p":"G2-H4S5","h":"pH 7","t":"tNH","x":3.78,"y":0.002},{"p":"G2-H4S5","h":"pH 7","t":"tNH","x":3.90,"y":0.002},{"p":"G2-H4S5","h":"pH 7","t":"tNH","x":4.35,"y":0.001},{"p":"G2-H4S5","h":"pH 7","t":"tNH","x":4.71,"y":0.001},{"p":"G2-H4S5","h":"pH 7","t":"tNH","x":5.04,"y":0.001},{"p":"G2-H4S5","h":"pH 7","t":"tNH","x":5.34,"y":0.001},{"p":"G2-H4S5","h":"pH 7","t":"tNH","x":5.51,"y":0.001},{"p":"G2-H4S5","h":"pH 7","t":"tNH","x":5.68,"y":0.001},{"p":"G2-H4S5","h":"pH 7","t":"tNH","x":5.98,"y":0.001},

{"p":"G2-K4S5","h":"pH 5","t":"pNH","x":0.695,"y":1},{"p":"G2-K4S5","h":"pH 5","t":"pNH","x":0.836,"y":1},{"p":"G2-K4S5","h":"pH 5","t":"pNH","x":0.926,"y":1},{"p":"G2-K4S5","h":"pH 5","t":"pNH","x":1.09,"y":1},{"p":"G2-K4S5","h":"pH 5","t":"pNH","x":1.35,"y":1},{"p":"G2-K4S5","h":"pH 5","t":"pNH","x":1.50,"y":1},{"p":"G2-K4S5","h":"pH 5","t":"pNH","x":1.68,"y":1},{"p":"G2-K4S5","h":"pH 5","t":"pNH","x":1.91,"y":1},{"p":"G2-K4S5","h":"pH 5","t":"pNH","x":2.15,"y":1},{"p":"G2-K4S5","h":"pH 5","t":"pNH","x":2.38,"y":1},{"p":"G2-K4S5","h":"pH 5","t":"pNH","x":2.59,"y":1},{"p":"G2-K4S5","h":"pH 5","t":"pNH","x":2.88,"y":1},{"p":"G2-K4S5","h":"pH 5","t":"pNH","x":3.25,"y":0.999},{"p":"G2-K4S5","h":"pH 5","t":"pNH","x":3.83,"y":0.999},{"p":"G2-K4S5","h":"pH 5","t":"pNH","x":4.29,"y":0.999},{"p":"G2-K4S5","h":"pH 5","t":"pNH","x":4.63,"y":0.999},{"p":"G2-K4S5","h":"pH 5","t":"pNH","x":4.91,"y":0.998},{"p":"G2-K4S5","h":"pH 5","t":"pNH","x":5.22,"y":0.998},{"p":"G2-K4S5","h":"pH 5","t":"pNH","x":5.52,"y":0.998},{"p":"G2-K4S5","h":"pH 5","t":"pNH","x":5.84,"y":0.998},
{"p":"G2-K4S5","h":"pH 5","t":"tNH","x":0.695,"y":0.785},{"p":"G2-K4S5","h":"pH 5","t":"tNH","x":0.836,"y":0.743},{"p":"G2-K4S5","h":"pH 5","t":"tNH","x":0.926,"y":0.743},{"p":"G2-K4S5","h":"pH 5","t":"tNH","x":1.09,"y":0.743},{"p":"G2-K4S5","h":"pH 5","t":"tNH","x":1.35,"y":0.700},{"p":"G2-K4S5","h":"pH 5","t":"tNH","x":1.50,"y":0.661},{"p":"G2-K4S5","h":"pH 5","t":"tNH","x":1.68,"y":0.623},{"p":"G2-K4S5","h":"pH 5","t":"tNH","x":1.91,"y":0.565},{"p":"G2-K4S5","h":"pH 5","t":"tNH","x":2.15,"y":0.509},{"p":"G2-K4S5","h":"pH 5","t":"tNH","x":2.38,"y":0.449},{"p":"G2-K4S5","h":"pH 5","t":"tNH","x":2.59,"y":0.408},{"p":"G2-K4S5","h":"pH 5","t":"tNH","x":2.88,"y":0.351},{"p":"G2-K4S5","h":"pH 5","t":"tNH","x":3.25,"y":0.288},{"p":"G2-K4S5","h":"pH 5","t":"tNH","x":3.83,"y":0.185},{"p":"G2-K4S5","h":"pH 5","t":"tNH","x":4.29,"y":0.150},{"p":"G2-K4S5","h":"pH 5","t":"tNH","x":4.63,"y":0.138},{"p":"G2-K4S5","h":"pH 5","t":"tNH","x":4.91,"y":0.123},{"p":"G2-K4S5","h":"pH 5","t":"tNH","x":5.22,"y":0.122},{"p":"G2-K4S5","h":"pH 5","t":"tNH","x":5.52,"y":0.114},{"p":"G2-K4S5","h":"pH 5","t":"tNH","x":5.84,"y":0.109},
{"p":"G2-K4S5","h":"pH 6","t":"pNH","x":0.725,"y":1},{"p":"G2-K4S5","h":"pH 6","t":"pNH","x":0.80,"y":1},{"p":"G2-K4S5","h":"pH 6","t":"pNH","x":0.948,"y":1},{"p":"G2-K4S5","h":"pH 6","t":"pNH","x":1.18,"y":0.999},{"p":"G2-K4S5","h":"pH 6","t":"pNH","x":1.41,"y":0.999},{"p":"G2-K4S5","h":"pH 6","t":"pNH","x":1.60,"y":0.999},{"p":"G2-K4S5","h":"pH 6","t":"pNH","x":1.83,"y":0.998},{"p":"G2-K4S5","h":"pH 6","t":"pNH","x":2.04,"y":0.998},{"p":"G2-K4S5","h":"pH 6","t":"pNH","x":2.28,"y":0.998},{"p":"G2-K4S5","h":"pH 6","t":"pNH","x":2.53,"y":0.997},{"p":"G2-K4S5","h":"pH 6","t":"pNH","x":2.73,"y":0.997},{"p":"G2-K4S5","h":"pH 6","t":"pNH","x":3.01,"y":0.996},{"p":"G2-K4S5","h":"pH 6","t":"pNH","x":3.42,"y":0.994},{"p":"G2-K4S5","h":"pH 6","t":"pNH","x":3.91,"y":0.991},{"p":"G2-K4S5","h":"pH 6","t":"pNH","x":4.31,"y":0.989},{"p":"G2-K4S5","h":"pH 6","t":"pNH","x":4.65,"y":0.987},{"p":"G2-K4S5","h":"pH 6","t":"pNH","x":4.93,"y":0.987},{"p":"G2-K4S5","h":"pH 6","t":"pNH","x":5.21,"y":0.986},{"p":"G2-K4S5","h":"pH 6","t":"pNH","x":5.52,"y":0.986},{"p":"G2-K4S5","h":"pH 6","t":"pNH","x":5.84,"y":0.984},
{"p":"G2-K4S5","h":"pH 6","t":"tNH","x":0.725,"y":0.422},{"p":"G2-K4S5","h":"pH 6","t":"tNH","x":0.80,"y":0.418},{"p":"G2-K4S5","h":"pH 6","t":"tNH","x":0.948,"y":0.411},{"p":"G2-K4S5","h":"pH 6","t":"tNH","x":1.18,"y":0.372},{"p":"G2-K4S5","h":"pH 6","t":"tNH","x":1.41,"y":0.334},{"p":"G2-K4S5","h":"pH 6","t":"tNH","x":1.60,"y":0.302},{"p":"G2-K4S5","h":"pH 6","t":"tNH","x":1.83,"y":0.252},{"p":"G2-K4S5","h":"pH 6","t":"tNH","x":2.04,"y":0.214},{"p":"G2-K4S5","h":"pH 6","t":"tNH","x":2.28,"y":0.175},{"p":"G2-K4S5","h":"pH 6","t":"tNH","x":2.53,"y":0.136},{"p":"G2-K4S5","h":"pH 6","t":"tNH","x":2.73,"y":0.115},{"p":"G2-K4S5","h":"pH 6","t":"tNH","x":3.01,"y":0.090},{"p":"G2-K4S5","h":"pH 6","t":"tNH","x":3.42,"y":0.051},{"p":"G2-K4S5","h":"pH 6","t":"tNH","x":3.91,"y":0.032},{"p":"G2-K4S5","h":"pH 6","t":"tNH","x":4.31,"y":0.025},{"p":"G2-K4S5","h":"pH 6","t":"tNH","x":4.65,"y":0.022},{"p":"G2-K4S5","h":"pH 6","t":"tNH","x":4.93,"y":0.020},{"p":"G2-K4S5","h":"pH 6","t":"tNH","x":5.21,"y":0.020},{"p":"G2-K4S5","h":"pH 6","t":"tNH","x":5.52,"y":0.020},{"p":"G2-K4S5","h":"pH 6","t":"tNH","x":5.84,"y":0.018},
{"p":"G2-K4S5","h":"pH 7","t":"pNH","x":0.725,"y":0.995},{"p":"G2-K4S5","h":"pH 7","t":"pNH","x":0.814,"y":0.995},{"p":"G2-K4S5","h":"pH 7","t":"pNH","x":0.993,"y":0.995},{"p":"G2-K4S5","h":"pH 7","t":"pNH","x":1.22,"y":0.994},{"p":"G2-K4S5","h":"pH 7","t":"pNH","x":1.46,"y":0.993},{"p":"G2-K4S5","h":"pH 7","t":"pNH","x":1.65,"y":0.993},{"p":"G2-K4S5","h":"pH 7","t":"pNH","x":1.88,"y":0.992},{"p":"G2-K4S5","h":"pH 7","t":"pNH","x":2.09,"y":0.991},{"p":"G2-K4S5","h":"pH 7","t":"pNH","x":2.34,"y":0.987},{"p":"G2-K4S5","h":"pH 7","t":"pNH","x":2.59,"y":0.984},{"p":"G2-K4S5","h":"pH 7","t":"pNH","x":2.77,"y":0.981},{"p":"G2-K4S5","h":"pH 7","t":"pNH","x":3.06,"y":0.972},{"p":"G2-K4S5","h":"pH 7","t":"pNH","x":3.47,"y":0.953},{"p":"G2-K4S5","h":"pH 7","t":"pNH","x":3.94,"y":0.925},{"p":"G2-K4S5","h":"pH 7","t":"pNH","x":4.33,"y":0.908},{"p":"G2-K4S5","h":"pH 7","t":"pNH","x":4.66,"y":0.903},{"p":"G2-K4S5","h":"pH 7","t":"pNH","x":4.94,"y":0.898},{"p":"G2-K4S5","h":"pH 7","t":"pNH","x":5.28,"y":0.896},{"p":"G2-K4S5","h":"pH 7","t":"pNH","x":5.53,"y":0.881},{"p":"G2-K4S5","h":"pH 7","t":"pNH","x":5.85,"y":0.885},
{"p":"G2-K4S5","h":"pH 7","t":"tNH","x":0.725,"y":0.138},{"p":"G2-K4S5","h":"pH 7","t":"tNH","x":0.814,"y":0.133},{"p":"G2-K4S5","h":"pH 7","t":"tNH","x":0.993,"y":0.122},{"p":"G2-K4S5","h":"pH 7","t":"tNH","x":1.22,"y":0.099},{"p":"G2-K4S5","h":"pH 7","t":"tNH","x":1.46,"y":0.076},{"p":"G2-K4S5","h":"pH 7","t":"tNH","x":1.65,"y":0.067},{"p":"G2-K4S5","h":"pH 7","t":"tNH","x":1.88,"y":0.051},{"p":"G2-K4S5","h":"pH 7","t":"tNH","x":2.09,"y":0.041},{"p":"G2-K4S5","h":"pH 7","t":"tNH","x":2.34,"y":0.030},{"p":"G2-K4S5","h":"pH 7","t":"tNH","x":2.59,"y":0.020},{"p":"G2-K4S5","h":"pH 7","t":"tNH","x":2.77,"y":0.018},{"p":"G2-K4S5","h":"pH 7","t":"tNH","x":3.06,"y":0.011},{"p":"G2-K4S5","h":"pH 7","t":"tNH","x":3.47,"y":0.005},{"p":"G2-K4S5","h":"pH 7","t":"tNH","x":3.94,"y":0.002},{"p":"G2-K4S5","h":"pH 7","t":"tNH","x":4.33,"y":0.001},{"p":"G2-K4S5","h":"pH 7","t":"tNH","x":4.66,"y":0.001},{"p":"G2-K4S5","h":"pH 7","t":"tNH","x":4.94,"y":0.001},{"p":"G2-K4S5","h":"pH 7","t":"tNH","x":5.28,"y":0.001},{"p":"G2-K4S5","h":"pH 7","t":"tNH","x":5.53,"y":0.001},{"p":"G2-K4S5","h":"pH 7","t":"tNH","x":5.85,"y":0.001}
]},
"title": {"text": "distance [nm]", "orient": "bottom", "anchor": "middle", "offset": 38, "fontSize": 100, "fontWeight": "normal", "font": "DejaVu Sans", "color": "black"},
"resolve": {"legend": {"shape": "independent", "fill": "independent", "color": "independent"}},
"vconcat": [
{
"title": {"text": "α", "orient": "left", "anchor": "middle", "offset": 46, "dx": -85, "fontSize": 100, "fontWeight": "normal", "fontStyle": "italic", "font": "DejaVu Sans", "color": "black"},
"resolve": {"legend": {"shape": "independent", "fill": "independent", "color": "independent"}},
"spacing": 26,
"vconcat": [
{"hconcat": [
{
"title": {"text": "G2", "anchor": "middle", "frame": "group", "offset": 20, "fontSize": 100, "fontWeight": "normal", "font": "DejaVu Sans", "color": "black"},
"width": 1737, "height": 1424,
"transform": [{"filter": "datum.p === 'G2'"}],
"encoding": {
  "x": {"field": "x", "type": "quantitative", "scale": {"domain": [0.435, 6.252], "nice": false, "zero": false}, "axis": {"values": [1,2,3,4,5,6], "format": "d", "labels": false, "title": null}},
  "y": {"field": "y", "type": "quantitative", "scale": {"domain": [-0.05, 1.05], "nice": false, "zero": false}, "axis": {"values": [0,0.2,0.4,0.6,0.8,1], "format": ".1f", "labels": true, "title": null}}
},
"layer": [
{"mark": {"type": "line", "strokeWidth": 6.5},
 "encoding": {
  "color": {"field": "h", "type": "nominal", "scale": {"domain": ["pH 5","pH 6","pH 7"], "range": ["#e8735c","#c3406a","#882e6f"]}, "legend": null},
  "detail": {"field": "t"}}},
{"transform": [{"filter": "datum.t === 'pNH'"}],
 "mark": {"type": "point", "filled": true, "opacity": 1, "strokeWidth": 0, "shape": "circle", "size": 2704},
 "encoding": {"color": {"field": "h", "type": "nominal", "legend": null}}},
{"transform": [{"filter": "datum.t === 'tNH'"}],
 "mark": {"type": "point", "filled": true, "opacity": 1, "strokeWidth": 0, "shape": "M0,-1L-1,1L1,1Z", "size": 3249},
 "encoding": {"color": {"field": "h", "type": "nominal", "legend": null}}}
]
},
{
"title": {"text": "G2-E4S1H4", "anchor": "middle", "frame": "group", "offset": 20, "fontSize": 100, "fontWeight": "normal", "font": "DejaVu Sans", "color": "black"},
"width": 1737, "height": 1424,
"transform": [{"filter": "datum.p === 'G2-E4S1H4'"}],
"encoding": {
  "x": {"field": "x", "type": "quantitative", "scale": {"domain": [0.435, 6.252], "nice": false, "zero": false}, "axis": {"values": [1,2,3,4,5,6], "format": "d", "labels": false, "title": null}},
  "y": {"field": "y", "type": "quantitative", "scale": {"domain": [-0.05, 1.05], "nice": false, "zero": false}, "axis": {"values": [0,0.2,0.4,0.6,0.8,1], "format": ".1f", "labels": false, "title": null}}
},
"layer": [
{"mark": {"type": "line", "strokeWidth": 6.5},
 "encoding": {
  "color": {"field": "h", "type": "nominal", "scale": {"domain": ["pH 5","pH 6","pH 7"], "range": ["#e8735c","#c3406a","#882e6f"]}, "legend": null},
  "detail": {"field": "t"}}},
{"transform": [{"filter": "datum.t === 'pNH'"}],
 "mark": {"type": "point", "filled": true, "opacity": 1, "strokeWidth": 0, "shape": "circle", "size": 2704},
 "encoding": {"color": {"field": "h", "type": "nominal", "legend": null}}},
{"transform": [{"filter": "datum.t === 'tNH'"}],
 "mark": {"type": "point", "filled": true, "opacity": 1, "strokeWidth": 0, "shape": "M0,-1L-1,1L1,1Z", "size": 3249},
 "encoding": {"color": {"field": "h", "type": "nominal", "legend": null}}},
{"mark": {"type": "point", "filled": true, "opacity": 0, "strokeWidth": 0, "size": 2704},
 "encoding": {
  "shape": {"field": "t", "type": "nominal", "scale": {"domain": ["pNH","tNH","pH 5","pH 6","pH 7"], "range": ["circle","M0,-1L-1,1L1,1Z","M-4,-0.12H4V0.12H-4Z","M-4,-0.12H4V0.12H-4Z","M-4,-0.12H4V0.12H-4Z"]},
   "legend": {"orient": "none", "legendX": 1092, "legendY": 330, "title": null,
     "labelFontSize": 100, "labelFont": "DejaVu Sans", "labelColor": "black", "labelOffset": 124, "labelLimit": 600,
     "padding": 38, "rowPadding": 47, "symbolOffset": 55, "symbolSize": 2704, "symbolStrokeWidth": 0, "symbolOpacity": 1,
     "fillColor": "rgba(255,255,255,0.8)", "strokeColor": "#cccccc", "cornerRadius": 14}},
  "fill": {"field": "t", "type": "nominal", "scale": {"domain": ["pNH","tNH","pH 5","pH 6","pH 7"], "range": ["black","black","#e8735c","#c3406a","#882e6f"]},
   "legend": {"orient": "none", "legendX": 1092, "legendY": 330, "title": null,
     "labelFontSize": 100, "labelFont": "DejaVu Sans", "labelColor": "black", "labelOffset": 124, "labelLimit": 600,
     "padding": 38, "rowPadding": 47, "symbolOffset": 55, "symbolSize": 2704, "symbolStrokeWidth": 0, "symbolOpacity": 1,
     "fillColor": "rgba(255,255,255,0.8)", "strokeColor": "#cccccc", "cornerRadius": 14}}}}
]
}
], "spacing": 36, "resolve": {"legend": {"shape": "independent", "fill": "independent", "color": "independent"}}},
{"hconcat": [
{
"title": {"text": "G2-H4S5", "anchor": "middle", "frame": "group", "offset": 20, "fontSize": 100, "fontWeight": "normal", "font": "DejaVu Sans", "color": "black"},
"width": 1737, "height": 1424,
"transform": [{"filter": "datum.p === 'G2-H4S5'"}],
"encoding": {
  "x": {"field": "x", "type": "quantitative", "scale": {"domain": [0.435, 6.252], "nice": false, "zero": false}, "axis": {"values": [1,2,3,4,5,6], "format": "d", "labels": true, "title": null}},
  "y": {"field": "y", "type": "quantitative", "scale": {"domain": [-0.05, 1.05], "nice": false, "zero": false}, "axis": {"values": [0,0.2,0.4,0.6,0.8,1], "format": ".1f", "labels": true, "title": null}}
},
"layer": [
{"mark": {"type": "line", "strokeWidth": 6.5},
 "encoding": {
  "color": {"field": "h", "type": "nominal", "scale": {"domain": ["pH 5","pH 6","pH 7"], "range": ["#e8735c","#c3406a","#882e6f"]}, "legend": null},
  "detail": {"field": "t"}}},
{"transform": [{"filter": "datum.t === 'pNH'"}],
 "mark": {"type": "point", "filled": true, "opacity": 1, "strokeWidth": 0, "shape": "circle", "size": 2704},
 "encoding": {"color": {"field": "h", "type": "nominal", "legend": null}}},
{"transform": [{"filter": "datum.t === 'tNH'"}],
 "mark": {"type": "point", "filled": true, "opacity": 1, "strokeWidth": 0, "shape": "M0,-1L-1,1L1,1Z", "size": 3249},
 "encoding": {"color": {"field": "h", "type": "nominal", "legend": null}}}
]
},
{
"title": {"text": "G2-K4S5", "anchor": "middle", "frame": "group", "offset": 20, "fontSize": 100, "fontWeight": "normal", "font": "DejaVu Sans", "color": "black"},
"width": 1737, "height": 1424,
"transform": [{"filter": "datum.p === 'G2-K4S5'"}],
"encoding": {
  "x": {"field": "x", "type": "quantitative", "scale": {"domain": [0.435, 6.252], "nice": false, "zero": false}, "axis": {"values": [1,2,3,4,5,6], "format": "d", "labels": true, "title": null}},
  "y": {"field": "y", "type": "quantitative", "scale": {"domain": [-0.05, 1.05], "nice": false, "zero": false}, "axis": {"values": [0,0.2,0.4,0.6,0.8,1], "format": ".1f", "labels": false, "title": null}}
},
"layer": [
{"mark": {"type": "line", "strokeWidth": 6.5},
 "encoding": {
  "color": {"field": "h", "type": "nominal", "scale": {"domain": ["pH 5","pH 6","pH 7"], "range": ["#e8735c","#c3406a","#882e6f"]}, "legend": null},
  "detail": {"field": "t"}}},
{"transform": [{"filter": "datum.t === 'pNH'"}],
 "mark": {"type": "point", "filled": true, "opacity": 1, "strokeWidth": 0, "shape": "circle", "size": 2704},
 "encoding": {"color": {"field": "h", "type": "nominal", "legend": null}}},
{"transform": [{"filter": "datum.t === 'tNH'"}],
 "mark": {"type": "point", "filled": true, "opacity": 1, "strokeWidth": 0, "shape": "M0,-1L-1,1L1,1Z", "size": 3249},
 "encoding": {"color": {"field": "h", "type": "nominal", "legend": null}}}
]
}
], "spacing": 36, "resolve": {"legend": {"shape": "independent", "fill": "independent", "color": "independent"}}}
]
}
],
"config": {
  "font": "DejaVu Sans",
  "view": {"stroke": "black", "strokeWidth": 4},
  "axis": {
    "domain": false,
    "grid": true, "gridColor": "#dddddd", "gridDash": [20, 10], "gridWidth": 4,
    "ticks": true, "tickColor": "black", "tickWidth": 4, "tickSize": 22,
    "labelFont": "DejaVu Sans", "labelFontSize": 84, "labelColor": "black"
  },
  "axisX": {"labelPadding": 23},
  "axisY": {"labelPadding": 20}
}
}
